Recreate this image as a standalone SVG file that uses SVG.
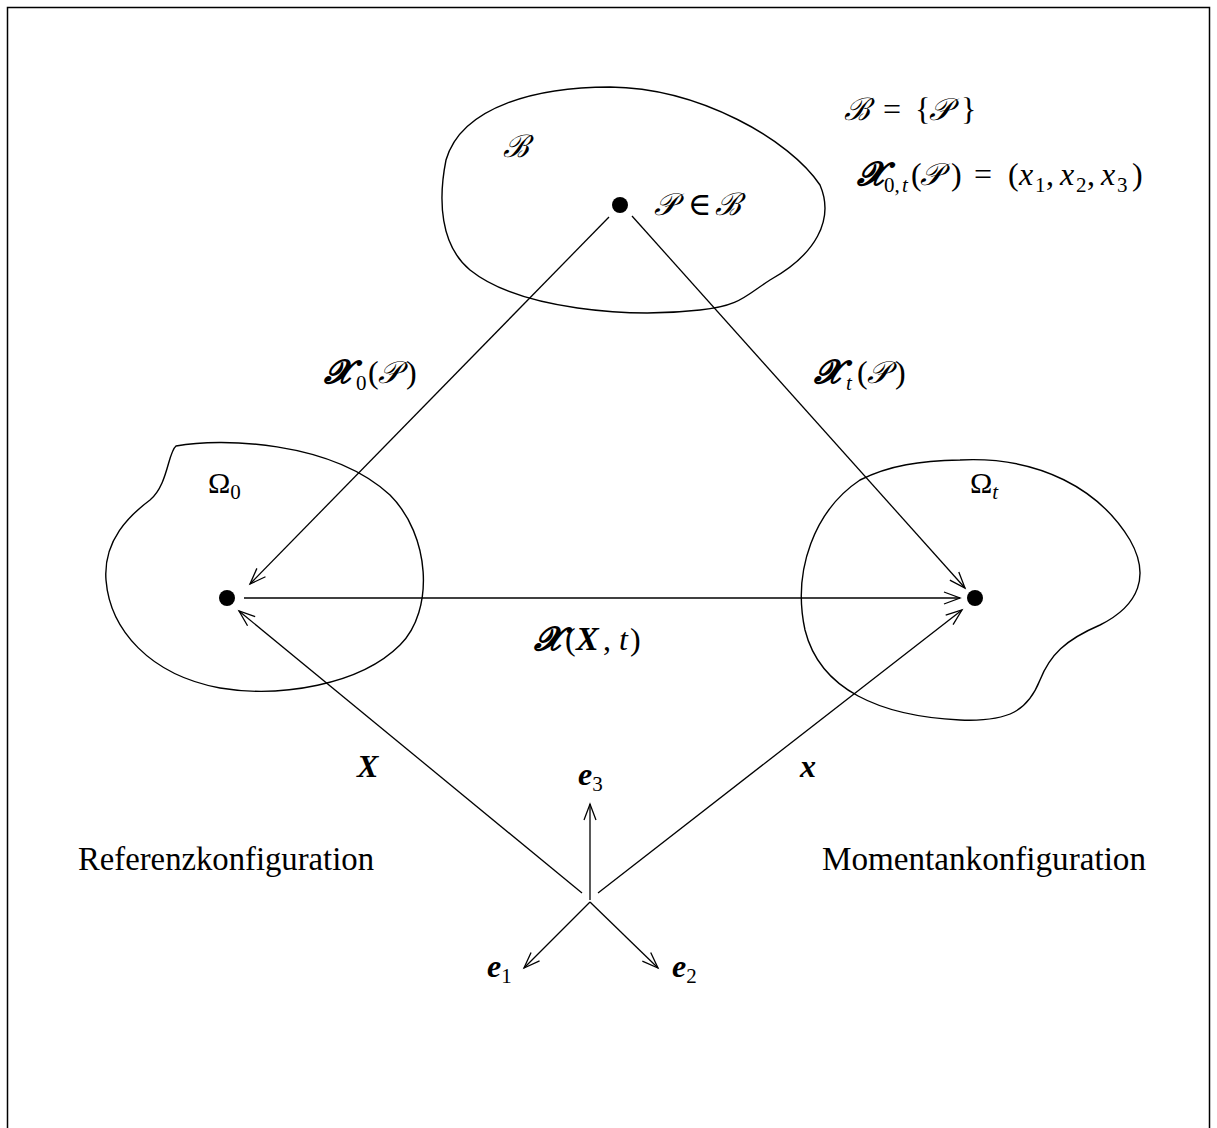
<svg xmlns="http://www.w3.org/2000/svg" width="1217" height="1128" viewBox="0 0 1217 1128">
<style>
.c{fill:none;stroke:#000;stroke-width:1.4}
.a{fill:none;stroke:#000;stroke-width:1.3}
text,tspan{font-family:"Liberation Serif","DejaVu Serif",serif;fill:#000}
.m{font-style:italic}
.b{font-style:italic;font-weight:bold}
.s{font-family:"DejaVu Serif","Liberation Serif",serif;font-style:italic;font-size:31px}
.sx{font-family:"DejaVu Serif","Liberation Serif",serif;font-style:italic;font-weight:bold;font-size:33px}
.sub{font-size:21px}
</style>
<defs>
<marker id="ah" markerUnits="userSpaceOnUse" markerWidth="40" markerHeight="40" viewBox="-20 -20 40 40" refX="0" refY="0" orient="auto">
<path d="M -16,-6 L 0,0 L -16,6" fill="none" stroke="#000" stroke-width="1.3"/>
</marker>
</defs>
<rect x="7.5" y="7.5" width="1202" height="1140" fill="none" stroke="#000" stroke-width="1.5"/>
<g id="body">
<path class="c" d="M 610,87 C 700,88 790,140 820,185 C 835,220 815,255 770,280 C 745,296 740,306 700,310 C 630,318 520,310 470,270 C 440,245 438,200 446,160 C 462,105 540,87 610,87 Z"/>
<text class="s" x="503" y="157">ℬ</text>
<circle cx="620" cy="205" r="8" fill="#000"/>
<text font-size="32" y="215"><tspan class="s" x="654">𝒫</tspan><tspan x="688">∈</tspan><tspan class="s" x="715">ℬ</tspan></text>
</g>
<g id="omega0">
<path class="c" d="M 176,446 C 220,438 330,440 390,495 C 430,535 435,610 400,645 C 360,685 280,698 220,688 C 150,675 110,630 106,580 C 103,540 130,515 150,500 C 168,485 168,452 176,446 Z"/>
<text x="208" y="493" font-size="30">Ω<tspan class="sub" y="499">0</tspan></text>
<circle cx="227" cy="598" r="8" fill="#000"/>
</g>
<g id="omegat">
<path class="c" d="M 960,460 C 1040,456 1100,490 1130,540 C 1150,575 1140,605 1100,625 C 1065,640 1050,655 1040,680 C 1028,710 1010,722 960,720 C 880,716 820,690 805,630 C 792,570 815,510 860,480 C 890,465 920,461 960,460 Z"/>
<text x="970" y="493" font-size="30">Ω<tspan class="m sub" y="499">t</tspan></text>
<circle cx="975" cy="598" r="8" fill="#000"/>
</g>
<g id="connectors">
<line class="a" x1="609" y1="217" x2="250" y2="584" marker-end="url(#ah)"/>
<line class="a" x1="632" y1="216" x2="965" y2="588" marker-end="url(#ah)"/>
<line class="a" x1="244" y1="598" x2="960" y2="598" marker-end="url(#ah)"/>
<line class="a" x1="582" y1="893" x2="239" y2="611" marker-end="url(#ah)"/>
<line class="a" x1="598" y1="893" x2="962" y2="610" marker-end="url(#ah)"/>
<line class="a" x1="590" y1="900" x2="590" y2="804" marker-end="url(#ah)"/>
<line class="a" x1="590" y1="902" x2="524" y2="968" marker-end="url(#ah)"/>
<line class="a" x1="590" y1="902" x2="658" y2="968" marker-end="url(#ah)"/>
</g>
<g id="labels">
<text font-size="32" y="120"><tspan class="s" x="844">ℬ</tspan><tspan x="883">=</tspan><tspan x="915">{</tspan><tspan class="s" x="929">𝒫</tspan><tspan x="961">}</tspan></text>
<text font-size="32" y="185"><tspan class="sx" x="857">𝓧</tspan><tspan class="sub" x="884" y="192">0,</tspan><tspan class="m sub" x="902" y="192">t</tspan><tspan x="911" y="185">(</tspan><tspan class="s" x="920">𝒫</tspan><tspan x="951">)</tspan><tspan x="974">=</tspan><tspan x="1008">(</tspan><tspan class="m" x="1019">x</tspan><tspan class="sub" x="1035" y="192">1</tspan><tspan x="1046" y="185">,</tspan><tspan class="m" x="1060">x</tspan><tspan class="sub" x="1076" y="192">2</tspan><tspan x="1087" y="185">,</tspan><tspan class="m" x="1101">x</tspan><tspan class="sub" x="1117" y="192">3</tspan><tspan x="1132" y="185">)</tspan></text>
<text font-size="32" y="383"><tspan class="sx" x="324">𝓧</tspan><tspan class="sub" x="356" y="390">0</tspan><tspan x="368" y="383">(</tspan><tspan class="s" x="378">𝒫</tspan><tspan x="406">)</tspan></text>
<text font-size="32" y="383"><tspan class="sx" x="814">𝓧</tspan><tspan class="m sub" x="846" y="390">t</tspan><tspan x="857" y="383">(</tspan><tspan class="s" x="867">𝒫</tspan><tspan x="895">)</tspan></text>
<text font-size="32" y="650"><tspan class="sx" x="534">𝓧</tspan><tspan x="565">(</tspan><tspan class="b" x="576" font-size="34">X</tspan><tspan x="603">,</tspan><tspan class="m" x="619">t</tspan><tspan x="630">)</tspan></text>
<text class="b" x="357" y="777" font-size="32">X</text>
<text class="b" x="800" y="777" font-size="32">x</text>
<text x="578" y="785" font-size="32"><tspan class="b">e</tspan><tspan class="sub" y="791">3</tspan></text>
<text x="487" y="977" font-size="32"><tspan class="b">e</tspan><tspan class="sub" y="983">1</tspan></text>
<text x="672" y="977" font-size="32"><tspan class="b">e</tspan><tspan class="sub" y="983">2</tspan></text>
<text x="78" y="870" font-size="33" textLength="296" lengthAdjust="spacingAndGlyphs">Referenzkonfiguration</text>
<text x="822" y="870" font-size="33" textLength="324" lengthAdjust="spacingAndGlyphs">Momentankonfiguration</text>
</g>
</svg>
